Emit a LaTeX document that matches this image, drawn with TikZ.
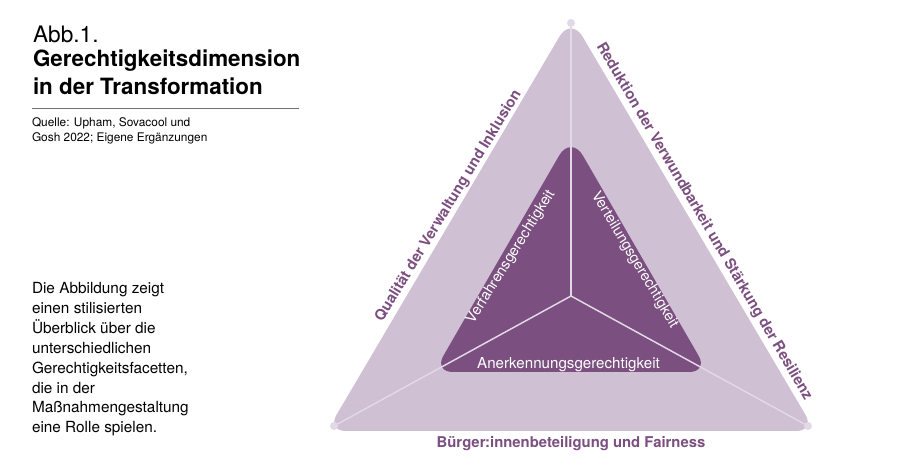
\documentclass[tikz,border=0pt]{standalone}
\usepackage{fontspec}
\setmainfont{TeX Gyre Heros}
\definecolor{darkp}{HTML}{7B4F80}
\definecolor{lightp}{HTML}{CFC0D4}
\definecolor{spoke}{HTML}{E3D9E6}
\tikzset{
 px/.style={inner sep=0pt,outer sep=0pt},
 plain/.style={px,anchor=west,text=black},
 outerlab/.style={px,text=darkp,font=\fontsize{11.15}{13}\selectfont\bfseries},
 innerlab/.style={px,text=white,font=\fontsize{11.35}{13}\selectfont},
 innerrot/.style={px,text=white,font=\fontsize{11}{13}\selectfont},
 dot/.style={circle,fill=spoke,minimum size=6pt,px},
 spokeline/.style={draw=spoke,line width=1.1pt},
}
\begin{document}
\begin{tikzpicture}[x=0.75pt,y=-0.75pt]
\useasboundingbox (0,0) rectangle (900,473);
\fill[lightp] (571,431) [rounded corners=14pt] -- (327,431) [rounded corners=17pt] -- (571,17) [rounded corners=14pt] -- (815,431) -- cycle;
\fill[darkp] (571,372) [rounded corners=14pt] -- (434,372) [rounded corners=18pt] -- (571,135) [rounded corners=14pt] -- (708,372) -- cycle;
\node[dot] (top) at (571,23) {};
\node[dot] (bl) at (334,426) {};
\node[dot] (br) at (808,426) {};
\coordinate (c) at (571,296);
\draw[spokeline] (c) -- (top);
\draw[spokeline] (c) -- (bl);
\draw[spokeline] (c) -- (br);
\node[outerlab,rotate=58.7] (q) at (448.5,206) {Qualität der Verwaltung und Inklusion};
\node[outerlab,rotate=-59.5] (r) at (704,221.5) {Reduktion der Verwundbarkeit und Stärkung der Resilienz};
\node[outerlab] (b) at (571,443.5) {Bürger:innenbeteiligung und Fairness};
\node[innerrot,rotate=58] (v) at (511,257) {Verfahrensgerechtigkeit};
\node[innerrot,rotate=-59] (w) at (634.5,260) {Verteilungsgerechtigkeit};
\node[innerlab] (a) at (568.5,364.5) {Anerkennungsgerechtigkeit};
\node[plain,font=\fontsize{17}{20}\selectfont] (t1) at (33,34.5) {Abb.1.};
\node[plain,font=\fontsize{16.8}{20}\selectfont\bfseries] (t2) at (33,61) {Gerechtigkeitsdimension};
\node[plain,font=\fontsize{16.8}{20}\selectfont\bfseries] (t3) at (33,86.5) {in der Transformation};
\coordinate (ra) at (32,109);
\coordinate (rb) at (299,109);
\draw[black!55,line width=0.75pt] (ra) -- (rb);
\node[plain,font=\fontsize{8.9}{10}\selectfont] (s1) at (32,123.5) {Quelle: Upham, Sovacool und};
\node[plain,font=\fontsize{8.9}{10}\selectfont] (s2) at (32,138) {Gosh 2022; Eigene Ergänzungen};
\node[plain,font=\fontsize{11.5}{14.9}\selectfont,align=left,anchor=north west] (d) at (32,282.5) {Die Abbildung zeigt\\einen stilisierten\\Überblick über die\\unterschiedlichen\\Gerechtigkeitsfacetten,\\die in der\\Maßnahmengestaltung\\eine Rolle spielen.};
\end{tikzpicture}
\end{document}
